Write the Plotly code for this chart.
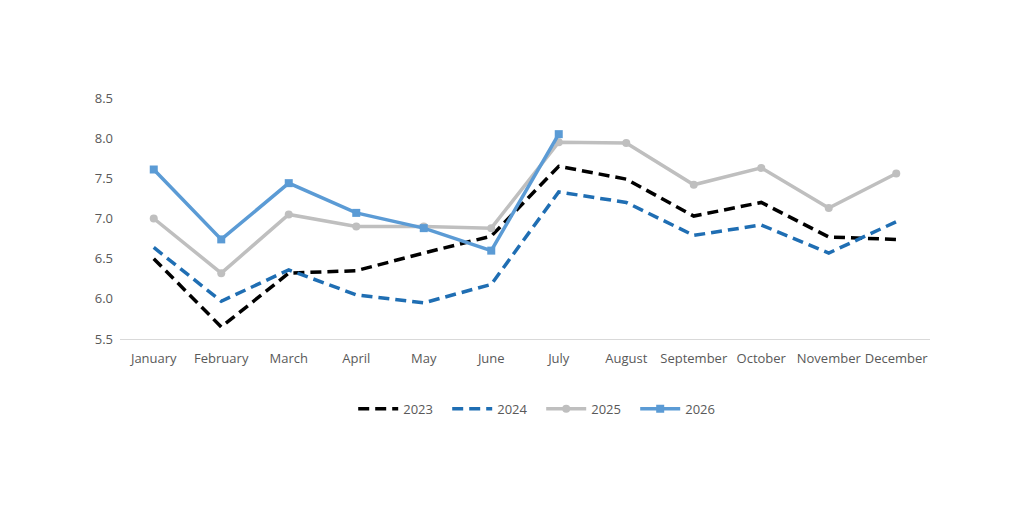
import plotly.graph_objects as go

months = ["January", "February", "March", "April", "May", "June",
          "July", "August", "September", "October", "November", "December"]

y2023 = [6.50, 5.65, 6.32, 6.35, 6.57, 6.78, 7.65, 7.49, 7.03, 7.20, 6.77, 6.74]
y2024 = [6.64, 5.97, 6.36, 6.05, 5.95, 6.18, 7.33, 7.20, 6.79, 6.92, 6.57, 6.96]
y2025 = [7.00, 6.32, 7.05, 6.90, 6.90, 6.88, 7.95, 7.94, 7.42, 7.63, 7.13, 7.56]
y2026 = [7.61, 6.74, 7.44, 7.07, 6.88, 6.60, 8.05]

fig = go.Figure()

fig.add_trace(go.Scatter(
    x=months, y=y2023, name="2023", mode="lines",
    line=dict(color="#000000", width=3.5, dash="11px,6px")
))
fig.add_trace(go.Scatter(
    x=months, y=y2024, name="2024", mode="lines",
    line=dict(color="#1F6EB3", width=3.5, dash="11px,6px")
))
fig.add_trace(go.Scatter(
    x=months, y=y2025, name="2025", mode="lines+markers",
    line=dict(color="#BFBFBF", width=3.5),
    marker=dict(symbol="circle", size=8, color="#BFBFBF")
))
fig.add_trace(go.Scatter(
    x=months[:len(y2026)], y=y2026, name="2026", mode="lines+markers",
    line=dict(color="#5B9BD5", width=3.5),
    marker=dict(symbol="square", size=8, color="#5B9BD5")
))

fig.update_layout(
    width=1024, height=512,
    margin=dict(l=112, r=102, t=90, b=181),
    paper_bgcolor="white", plot_bgcolor="white",
    font=dict(family="Open Sans, Liberation Sans, sans-serif", size=13, color="#595959"),
    showlegend=True,
    legend=dict(orientation="h", x=0.52, xanchor="center", y=-0.29, yanchor="middle",
                font=dict(size=13, color="#595959"), traceorder="normal",
                itemwidth=40, entrywidth=39),
    xaxis=dict(type="category", range=[-0.5, 11.5], showgrid=False,
               showline=True, linecolor="#D9D9D9", linewidth=1, ticks="",
               ticklabelstandoff=7,
               tickfont=dict(size=13, color="#595959")),
    yaxis=dict(range=[5.5, 8.5], dtick=0.5, tickformat=".1f", showgrid=False,
               zeroline=False, showline=False, ticks="",
               ticklabelstandoff=6,
               tickfont=dict(size=13, color="#595959")),
)

fig.write_html("out.html")
